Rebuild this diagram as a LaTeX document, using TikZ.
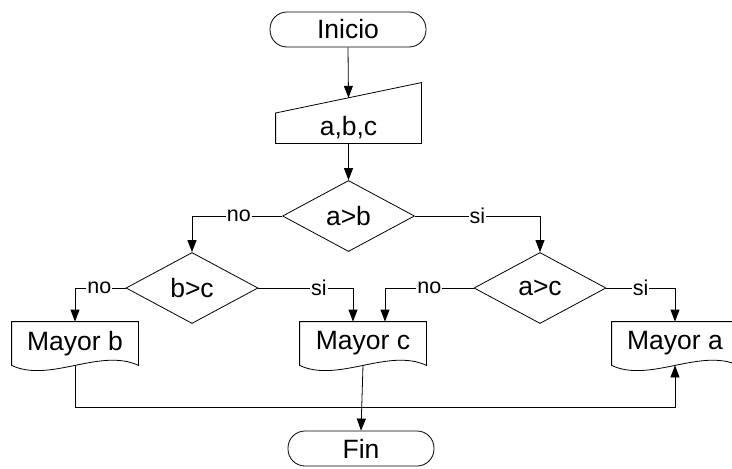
\documentclass[tikz,border=0pt]{standalone}
\usepackage{fontspec}
\setmainfont{Liberation Sans}
\usetikzlibrary{arrows.meta,shapes.geometric,calc}
\newcommand\docoutline[1]{%
  \draw (#1.north west) -- (#1.north east) -- (#1.south east)
    .. controls ($(#1.south east)!0.3!(#1.south west)+(0,-18)$) and ($(#1.south east)!0.7!(#1.south west)+(0,18)$) .. (#1.south west) -- cycle;}
\begin{document}
\begin{tikzpicture}[x=1pt,y=-1pt,line width=0.8pt,
  every node/.style={font=\fontsize{26.5}{30}\selectfont},
  termbox/.style={draw,rectangle,rounded corners=17pt,minimum width=#1,minimum height=35pt,inner sep=0pt},
  decbox/.style={draw,diamond,minimum width=132pt,minimum height=71pt,inner sep=0pt},
  docbox/.style={rectangle,minimum width=126pt,minimum height=43pt,inner sep=0pt},
  lbl/.style={fill=white,inner sep=1pt,font=\fontsize{21.5}{24}\selectfont},
  arr/.style={-{Triangle[length=12pt,width=9pt]}}]
\clip (0,0) rectangle (732,469);
\fill[white] (0,0) rectangle (732,469);

\node[termbox=156pt] (ini) at (348,29.5) {Inicio};
\node[rectangle,minimum width=145pt,minimum height=60pt,inner sep=0pt] (in) at (348.5,113) {};
\draw (in.west) -- (in.north east) -- (in.south east) -- (in.south west) -- cycle;
\node (intext) at (348.5,128) {a,b,c};

\node[decbox] (ab) at (348.5,216) {a>b};
\node[decbox] (bc) at (192,288) {b>c};
\node[decbox] (ac) at (540,288) {a>c};

\node[docbox] (mb) at (75,343.5) {Mayor b};
\node[docbox] (mc) at (363,343.5) {Mayor c};
\node[docbox] (ma) at (675,343.5) {Mayor a};
\docoutline{mb}
\docoutline{mc}
\docoutline{ma}

\node[termbox=146pt] (fin) at (361,448.5) {Fin};

\draw[arr] (ini.south) -- ($(in.west)!0.5!(in.north east)$);
\draw[arr] (in.south) -- (ab.north);
\draw[arr] (ab.west) -| node[lbl,pos=0.24]{no} (bc.north);
\draw[arr] (ab.east) -| node[lbl,pos=0.25]{si} (ac.north);
\draw[arr] (bc.west) -| node[lbl,pos=0.26]{no} (mb.north);
\draw[arr] (bc.east) -| node[lbl,pos=0.32]{si} ($(mc.north)+(-10,0)$);
\draw[arr] (ac.west) -| node[lbl,pos=0.25]{no} ($(mc.north)+(22,0)$);
\draw[arr] (ac.east) -| node[lbl,pos=0.25]{si} (ma.north);
\draw[arr] (mb.south) -- ++(0,42) -| (ma.south);
\draw[arr] (mc.south) -- (fin.north);
\end{tikzpicture}
\end{document}
